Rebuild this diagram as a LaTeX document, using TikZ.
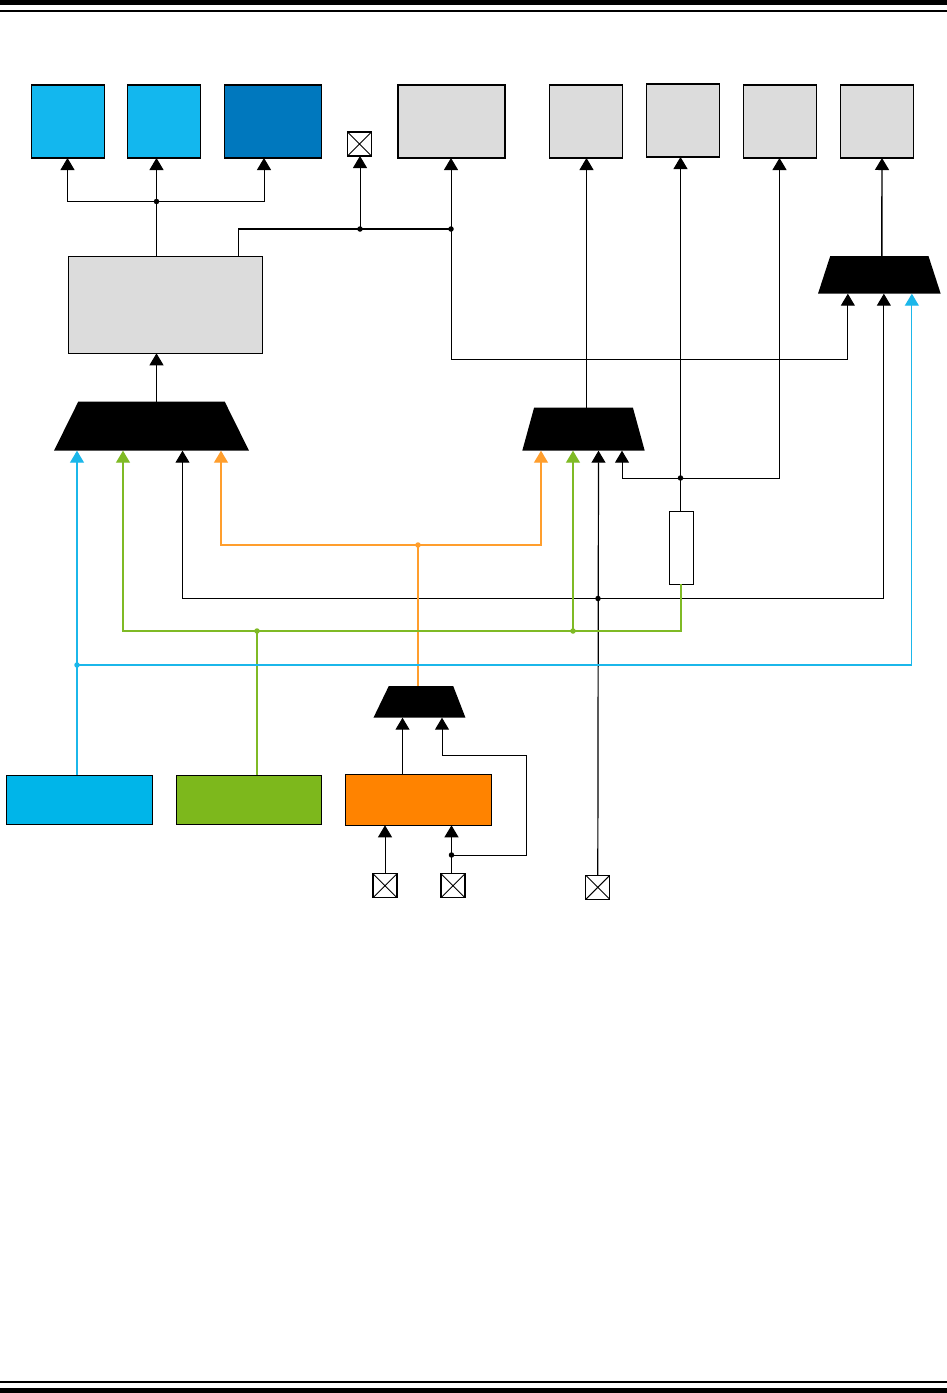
\documentclass[tikz,border=0pt]{standalone}
\usetikzlibrary{arrows.meta, shapes.geometric}
\definecolor{skyfill}{HTML}{13B7EE}
\definecolor{deepblue}{HTML}{0078BE}
\definecolor{panel}{HTML}{DCDCDC}
\definecolor{srcblue}{HTML}{00B5E9}
\definecolor{srcgreen}{HTML}{7DB81C}
\definecolor{srcorange}{HTML}{FF8300}
\definecolor{wireblue}{HTML}{1BB7EA}
\definecolor{wiregreen}{HTML}{7FBA25}
\definecolor{wireorange}{HTML}{FF9E2D}
\tikzset{
  block/.style={draw=black, line width=1.4pt, inner sep=0pt, outer sep=0pt},
  padbox/.style={draw=black, fill=white, line width=1.2pt, inner sep=0pt, outer sep=0pt,
    minimum width=24pt, minimum height=24pt,
    path picture={\draw[line width=0.9pt] (path picture bounding box.north west) -- (path picture bounding box.south east)
      (path picture bounding box.north east) -- (path picture bounding box.south west);}},
  muxshape/.style={trapezium, trapezium stretches=true, fill=black, inner sep=1pt, outer sep=0pt},
  wire/.style={line width=1pt, black},
  busline/.style={line width=1.4pt, black},
  tint/.style={line width=1.15pt, #1},
  dot/.style={circle, fill=#1, inner sep=0pt, outer sep=0pt, minimum size=5.5pt},
  dot/.default=black,
}

\begin{document}
\begin{tikzpicture}[x=1pt, y=-1pt, >={Stealth[length=12pt, width=14pt, inset=0pt]}]

\useasboundingbox (0,0) rectangle (947,1393);
\fill[white] (0,0) rectangle (947,1393);

% Page rules
\fill[black] (0,0) rectangle (947,5);
\fill[black] (0,10) rectangle (947,12);
\fill[black] (0,1381) rectangle (947,1383);
\fill[black] (0,1388) rectangle (947,1393);

% --- Outputs along the top ---
\node[block, fill=skyfill, minimum width=72.5pt, minimum height=73pt] (boxa) at (68,121.5) {};
\node[block, fill=skyfill, minimum width=72.5pt, minimum height=73pt] (boxb) at (164,121.5) {};
\node[block, fill=deepblue, minimum width=97pt, minimum height=73pt] (boxc) at (273,121.5) {};
\node[padbox] (padtop) at (359.5,144) {};
\node[block, fill=panel, minimum width=107pt, minimum height=73pt] (boxd) at (451.5,121.5) {};
\node[block, fill=panel, minimum width=73pt, minimum height=73pt] (boxe) at (586,121.5) {};
\node[block, fill=panel, minimum width=73pt, minimum height=73pt] (boxf) at (682.7,120.5) {};
\node[block, fill=panel, minimum width=73pt, minimum height=73pt] (boxg) at (780,121.5) {};
\node[block, fill=panel, minimum width=73pt, minimum height=73pt] (boxh) at (877,121.5) {};

% --- Middle blocks ---
\node[block, line width=1pt, fill=panel, minimum width=194pt, minimum height=97pt] (core) at (165.3,304.8) {};
\node[block, line width=1pt, fill=white, minimum width=24pt, minimum height=73pt] (delay) at (681.3,547.8) {};

% --- Multiplexers ---
\node[muxshape, trapezium left angle=80.6, trapezium right angle=80.6, minimum width=195pt, minimum height=49pt] (muxa) at (151.5,426.2) {};
\node[muxshape, trapezium left angle=83.2, trapezium right angle=83.2, minimum width=122.4pt, minimum height=43pt] (muxb) at (583.5,429.2) {};
\node[muxshape, trapezium left angle=82.9, trapezium right angle=82.9, minimum width=122.7pt, minimum height=37.7pt] (muxc) at (879.35,274.85) {};
\node[muxshape, trapezium left angle=76.6, trapezium right angle=79.2, minimum width=92pt, minimum height=31.7pt] (muxd) at (421,701.85) {};

% --- Sources along the bottom ---
\node[block, fill=srcblue, minimum width=146pt, minimum height=49pt] (blue) at (79.3,799.8) {};
\node[block, line width=1pt, fill=srcgreen, minimum width=145.4pt, minimum height=49pt] (green) at (249,799.8) {};
\node[block, fill=srcorange, minimum width=146pt, minimum height=51pt] (orange) at (418.7,799.8) {};
\node[padbox] (pada) at (385,885.8) {};
\node[padbox] (padb) at (453,885.8) {};
\node[padbox] (padc) at (597.8,887.3) {};

% --- Junctions ---
\node[dot] (jnout) at (156.5,201.5) {};
\node[dot] (jnpad) at (360,229) {};
\node[dot] (jnbus) at (451,229) {};
\node[dot] (jnfb) at (680.5,478) {};
\node[dot] (jnext) at (598,598.5) {};
\node[dot] (jnloop) at (451.5,855) {};
\node[dot=wireorange] (jnorange) at (418,545) {};
\node[dot=wiregreen] (jngreen) at (257,631) {};
\node[dot=wiregreen] (jnsel) at (573,631) {};
\node[dot=wireblue] (jnblue) at (77,665) {};

% Output fan
\draw[wire] (core.north -| jnout) -- (jnout.center);
\draw[wire, ->] (jnout.center) -| ([xshift=-0.5pt]boxa.south);
\draw[wire, ->] (jnout.center) -- (jnout |- boxb.south);
\draw[wire, ->] (jnout.center) -| ([xshift=-9pt]boxc.south);
\draw[wire, ->] (jnout |- muxa.north) -- (jnout |- core.south);

% Bus from the core
\draw[busline] ([xshift=73.2pt]core.north) |- (jnbus.center);
\draw[wire, ->] (jnpad.center) -- (jnpad |- padtop.south);
\draw[wire, ->] (jnbus.center) -- (jnbus |- boxd.south);
\draw[wire, ->] (jnbus.center) -- ++(0,130.5) -| ([xshift=-31.5pt]muxc.south);

% Second and third multiplexer outputs
\draw[wire, ->] ([xshift=3pt]muxb.north) -- ([xshift=0.5pt]boxe.south);
\draw[busline, ->] ([xshift=2.5pt]muxc.north) -- ([xshift=5pt]boxh.south);

% Delay feedback
\draw[wire, ->] (jnfb.center) -- (jnfb |- boxf.south);
\draw[wire, ->] (jnfb.center) -| ([xshift=-0.5pt]boxg.south);
\draw[wire, ->] (jnfb.center) -| ([xshift=38.5pt]muxb.south);
\draw[wire] (jnfb.center) -- (jnfb |- delay.north);

% External line
\draw[wire, line width=1.2pt, ->] (padc.north) -- ([xshift=15pt]muxb.south);
\draw[wire, ->] (jnext.center) -| ([xshift=31pt]muxa.south);
\draw[wire, ->] (jnext.center) -| ([xshift=4.5pt]muxc.south);

% Orange source
\draw[tint=wireorange, ->] (jnorange.center) -| ([xshift=69.5pt]muxa.south);
\draw[tint=wireorange, ->] (jnorange.center) -| ([xshift=-42.5pt]muxb.south);
\draw[tint=wireorange] (jnorange.center) -- (jnorange |- muxd.north);

% Green source
\draw[tint=wiregreen] (jngreen.center) -- (jngreen |- green.north);
\draw[tint=wiregreen, ->] (jngreen.center) -| ([xshift=-28.5pt]muxa.south);
\draw[tint=wiregreen] (jngreen.center) -| ([xshift=-0.3pt]delay.south);
\draw[tint=wiregreen, ->] (jnsel.center) -- (jnsel |- muxb.south);

% Blue source
\draw[tint=wireblue] (jnblue.center) -- (jnblue |- blue.north);
\draw[tint=wireblue, ->] (jnblue.center) -- (jnblue |- muxa.south);
\draw[tint=wireblue, ->] (jnblue.center) -| ([xshift=32.5pt]muxc.south);

% Around the orange block
\draw[wire, ->] ([xshift=-16.2pt]orange.north) -- ([xshift=-18.5pt]muxd.south);
\draw[wire, ->] (pada.north) -- (pada |- orange.south);
\draw[busline, ->] (jnloop |- padb.north) -- (jnloop |- orange.south);
\draw[wire, ->] (jnloop.center) -- ++(75,0) -- ++(0,-100) -| ([xshift=21pt]muxd.south);

\end{tikzpicture}
\end{document}
